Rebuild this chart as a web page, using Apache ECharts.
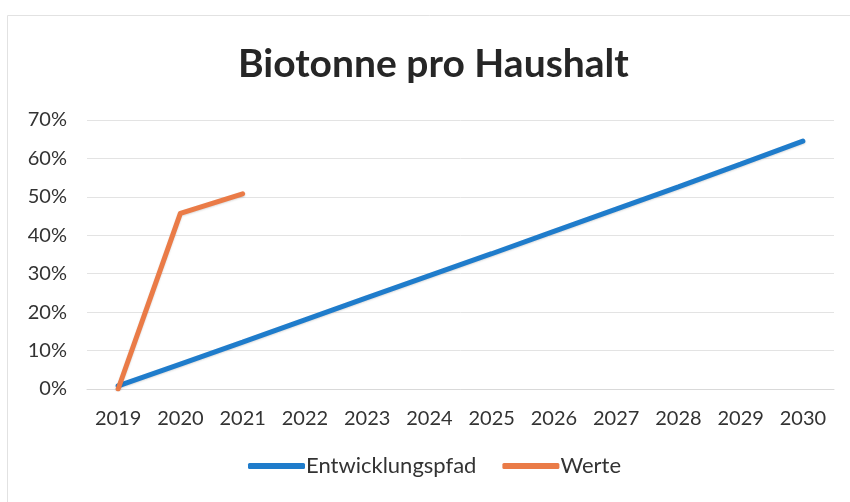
<!DOCTYPE html>
<html>
<head>
<meta charset="utf-8">
<title>Biotonne pro Haushalt</title>
<script src="https://cdn.jsdelivr.net/npm/echarts@6/dist/echarts.min.js"></script>
<style>
  html, body { margin: 0; padding: 0; background: #fff; }
  #main { width: 850px; height: 502px; }
</style>
</head>
<body>
<div id="main"></div>
<script>
// Daten (in Prozent)
var jahre = ['2019', '2020', '2021', '2022', '2023', '2024', '2025', '2026', '2027', '2028', '2029', '2030'];
var entwicklungspfad = [0.8, 6.5, 12.2, 18.0, 23.8, 29.5, 35.2, 41.0, 46.8, 52.6, 58.5, 64.5];
var werte = [0, 45.7, 50.8];
var yTicks = [0, 10, 20, 30, 40, 50, 60, 70];

var chart = echarts.init(document.getElementById('main'));
var font = 'Lato, "Open Sans", sans-serif';

chart.setOption({
  backgroundColor: '#fff',
  animation: false,
  graphic: [{
    type: 'rect',
    shape: { x: 7.5, y: 15.5, width: 900, height: 600 },
    style: { fill: 'none', stroke: '#e2e2e2', lineWidth: 1 },
    silent: true
  }],
  title: {
    text: 'Biotonne pro Haushalt',
    left: 233,
    top: 40,
    textStyle: { fontFamily: font, fontSize: 39, fontWeight: 'bold', color: '#262626' }
  },
  legend: {
    bottom: 20,
    left: 243,
    itemWidth: 57,
    itemHeight: 6,
    itemGap: 26,
    icon: 'roundRect',
    textStyle: { fontFamily: font, fontSize: 22, color: '#333', padding: [0, 0, 0, -4] },
    data: ['Entwicklungspfad', 'Werte']
  },
  grid: { left: 87, right: 16, top: 120, bottom: 113, containLabel: false },
  xAxis: {
    type: 'category',
    data: jahre,
    boundaryGap: true,
    axisLine: { lineStyle: { color: '#d9d9d9' } },
    axisTick: { show: false },
    axisLabel: { fontFamily: font, fontSize: 20, color: '#333', margin: 20 }
  },
  yAxis: {
    type: 'value',
    min: yTicks[0],
    max: yTicks[yTicks.length - 1],
    interval: 10,
    axisLine: { show: false },
    axisTick: { show: false },
    splitLine: { lineStyle: { color: '#e3e3e3' } },
    axisLabel: { fontFamily: font, fontSize: 20, color: '#333', margin: 20, formatter: '{value}%' }
  },
  series: [
    {
      name: 'Entwicklungspfad',
      type: 'line',
      data: entwicklungspfad,
      symbol: 'none',
      color: '#1f7ccb',
      lineStyle: { width: 5, cap: 'round', shadowColor: 'rgba(0,0,0,0.15)', shadowBlur: 2, shadowOffsetY: 1 }
    },
    {
      name: 'Werte',
      type: 'line',
      data: werte,
      symbol: 'none',
      color: '#ea7b47',
      lineStyle: { width: 5, cap: 'round', join: 'round', shadowColor: 'rgba(0,0,0,0.15)', shadowBlur: 2, shadowOffsetY: 1 }
    }
  ]
});
</script>
</body>
</html>
